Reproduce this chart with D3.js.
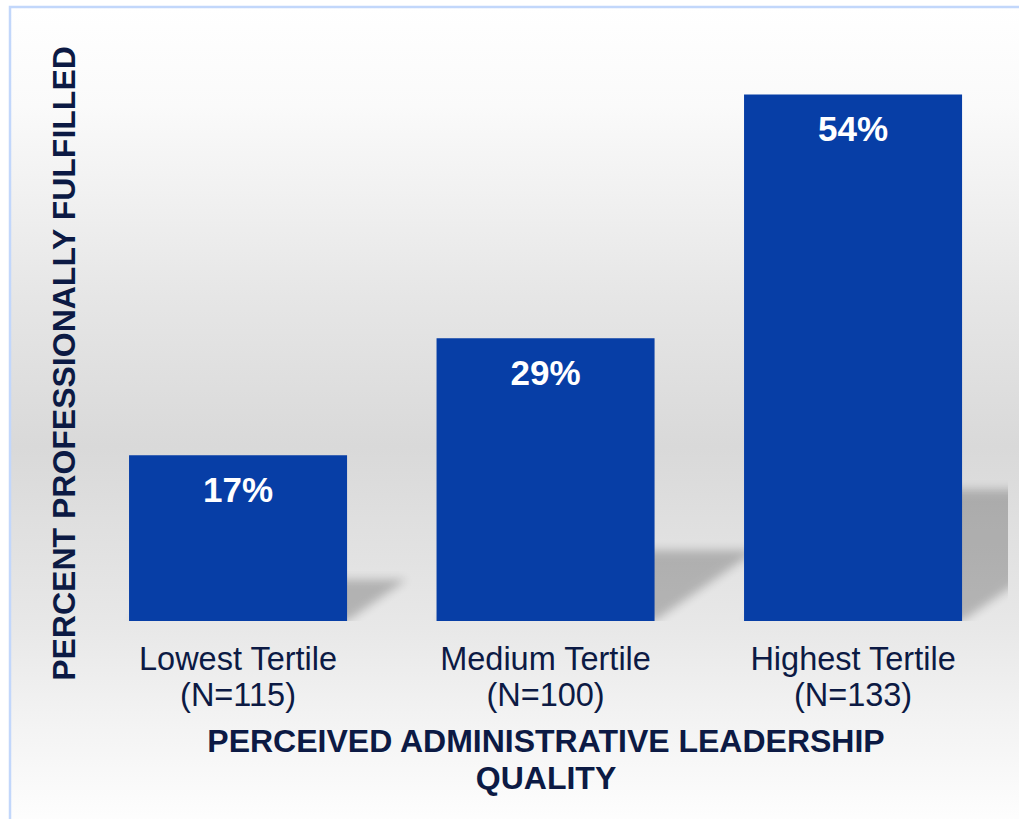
<!DOCTYPE html>
<html>
<head>
<meta charset="utf-8">
<script src="https://cdn.jsdelivr.net/npm/d3@7"></script>
<style>
  html, body { margin: 0; padding: 0; background: #fff; }
  svg { display: block; font-family: "Liberation Sans", Arial, sans-serif; }
</style>
</head>
<body>
<div id="chart"></div>
<script>
// data
const categories = ['Lowest Tertile', 'Medium Tertile', 'Highest Tertile'];
const sampleSizes = ['(N=115)', '(N=100)', '(N=133)'];
const percents = [17, 29, 54];
const yTitle = 'PERCENT PROFESSIONALLY FULFILLED';
const xTitleLines = ['PERCEIVED ADMINISTRATIVE LEADERSHIP', 'QUALITY'];

const width = 1019;
const height = 819;
const baseY = 621;
const textColor = '#0c1a44';
const barColor = '#073ea6';

const svg = d3.select('#chart')
  .append('svg')
  .attr('width', width)
  .attr('height', height);

const defs = svg.append('defs');

// vertical background gradient (white -> grey -> white)
const grad = defs.append('linearGradient')
  .attr('id', 'bg')
  .attr('x1', 0).attr('y1', 0).attr('x2', 0).attr('y2', 1);
[
  [0, '#ffffff'], [0.12, '#fafafa'], [0.35, '#e6e6e6'], [0.53, '#d9d9d9'],
  [0.75, '#e8e8e8'], [0.85, '#f2f2f2'], [1, '#ffffff']
].forEach(([o, c]) => grad.append('stop').attr('offset', o).attr('stop-color', c));

defs.append('filter')
  .attr('id', 'blur')
  .attr('x', '-20%').attr('y', '-20%').attr('width', '140%').attr('height', '140%')
  .append('feGaussianBlur')
  .attr('stdDeviation', 5);

defs.append('clipPath')
  .attr('id', 'plotClip')
  .append('rect')
  .attr('x', 12).attr('y', 8).attr('width', 996).attr('height', baseY - 8);

// chart frame
svg.append('rect')
  .attr('x', 10).attr('y', 7)
  .attr('width', width + 10).attr('height', height + 10)
  .attr('fill', 'url(#bg)')
  .attr('stroke', '#c2d7fb')
  .attr('stroke-width', 2.5);

const x = d3.scaleBand()
  .domain(categories)
  .range([84.3, 1006.8])
  .paddingInner(0.291)
  .paddingOuter(0.1455);

const y = d3.scaleLinear()
  .domain([0, 60])
  .range([baseY, 36]);

const data = categories.map((c, i) => ({ cat: c, n: sampleSizes[i], value: percents[i] }));

// cast shadows behind bars
svg.append('g')
  .attr('clip-path', 'url(#plotClip)')
  .selectAll('path')
  .data(data)
  .join('path')
  .attr('d', d => {
    const x0 = x(d.cat);
    const x1 = x0 + x.bandwidth();
    const h = baseY - y(d.value);
    const dx = 0.36 * h;
    const s = 0.25 * h;
    return `M${x0},${baseY}L${x1},${baseY}L${x1 + dx},${baseY - s}L${x0 + dx},${baseY - s}Z`;
  })
  .attr('fill', '#000')
  .attr('opacity', 0.22)
  .attr('filter', 'url(#blur)');

// bars
svg.append('g')
  .selectAll('rect')
  .data(data)
  .join('rect')
  .attr('x', d => x(d.cat))
  .attr('y', d => y(d.value))
  .attr('width', x.bandwidth())
  .attr('height', d => baseY - y(d.value))
  .attr('fill', barColor);

// value labels
svg.append('g')
  .selectAll('text')
  .data(data)
  .join('text')
  .attr('x', d => x(d.cat) + x.bandwidth() / 2)
  .attr('y', d => y(d.value) + 46.5)
  .attr('text-anchor', 'middle')
  .attr('font-size', '35px')
  .attr('font-weight', 'bold')
  .attr('fill', '#ffffff')
  .text(d => d.value + '%');

// category labels
const cats = svg.append('g')
  .selectAll('text')
  .data(data)
  .join('text')
  .attr('text-anchor', 'middle')
  .attr('font-size', '32.5px')
  .attr('fill', textColor);

cats.append('tspan')
  .attr('x', d => x(d.cat) + x.bandwidth() / 2)
  .attr('y', 670)
  .text(d => d.cat);

cats.append('tspan')
  .attr('x', d => x(d.cat) + x.bandwidth() / 2)
  .attr('y', 706)
  .text(d => d.n);

// x axis title
svg.append('g')
  .selectAll('text')
  .data(xTitleLines)
  .join('text')
  .attr('x', 546)
  .attr('y', (d, i) => 752 + i * 37)
  .attr('text-anchor', 'middle')
  .attr('font-size', '32px')
  .attr('font-weight', 'bold')
  .attr('fill', textColor)
  .text(d => d);

// y axis title
svg.append('text')
  .attr('transform', 'translate(75,363.5) rotate(-90)')
  .attr('text-anchor', 'middle')
  .attr('font-size', '32px')
  .attr('font-weight', 'bold')
  .attr('fill', textColor)
  .text(yTitle);
</script>
</body>
</html>
